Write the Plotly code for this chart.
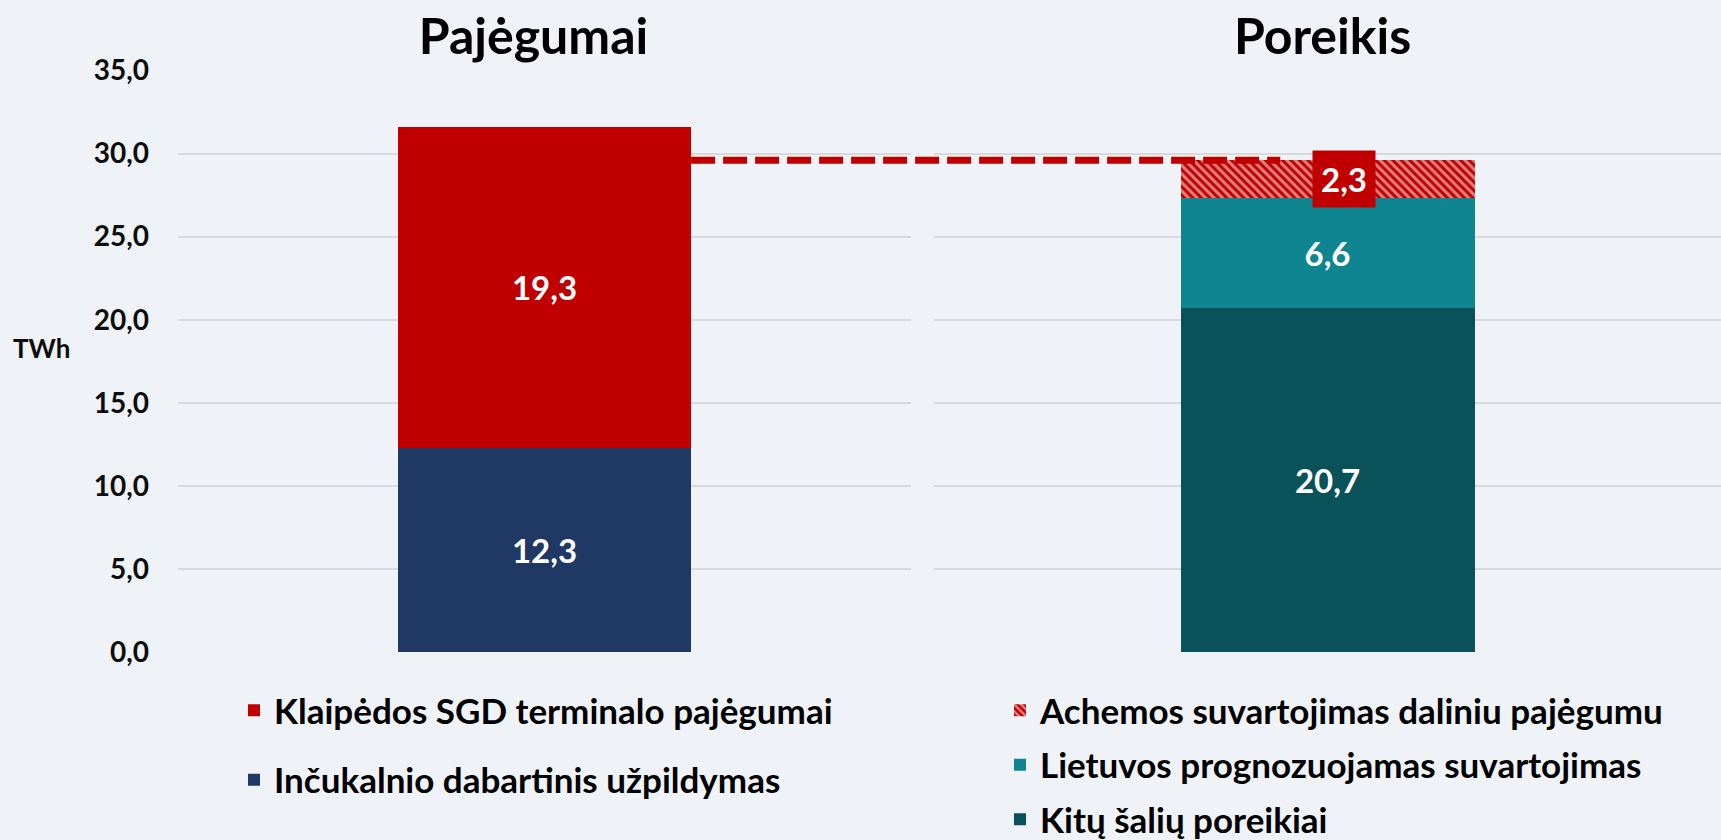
import plotly.graph_objects as go

# ---- data ----
cap_category = ["Pajėgumai"]
dem_category = ["Poreikis"]

incukalnis = [12.3]          # Inčukalnio dabartinis užpildymas
klaipeda = [19.3]            # Klaipėdos SGD terminalo pajėgumai

kitos_salys = [20.7]         # Kitų šalių poreikiai
lietuva = [6.6]              # Lietuvos prognozuojamas suvartojimas
achema = [2.3]               # Achemos suvartojimas daliniu pajėgumu

y_ticks = [0, 5, 10, 15, 20, 25, 30, 35]

# ---- styling ----
W, H = 1721, 840
BG = "#EFF3F7"
FONT = "Lato"
RED = "#C00000"
NAVY = "#203864"
TEAL = "#0E8591"
DTEAL = "#0A525A"
GRID = "#D9D9D9"

left_dom = [178 / W, 911 / W]
right_dom = [934 / W, 1.0]
y_dom = [(H - 652) / H, (H - 70.5) / H]
left_width = 0.40
right_width = 294 / (W * (right_dom[1] - right_dom[0]))

label_font = dict(family=FONT, size=33, color="white")

fig = go.Figure()

def bar(x, y, name, color, xa, ya, legend, width, rank, text=True, pattern=None):
    kw = {}
    if pattern:
        kw["marker"] = dict(color=RED, line=dict(width=0), pattern=pattern)
    else:
        kw["marker"] = dict(color=color, line=dict(width=0))
    fig.add_trace(go.Bar(
        x=x, y=y, name=name, xaxis=xa, yaxis=ya, legend=legend, width=width,
        legendgroup=name, legendrank=rank,
        texttemplate="<b>%{y:.1f}</b>" if text else None,
        textposition="inside" if text else "none",
        insidetextanchor="middle", textangle=0,
        textfont=label_font, constraintext="none",
        hoverinfo="skip", **kw))

bar(cap_category, incukalnis, "Inčukalnio dabartinis užpildymas", NAVY, "x", "y", "legend", left_width, 2)
bar(cap_category, klaipeda, "Klaipėdos SGD terminalo pajėgumai", RED, "x", "y", "legend", left_width, 1)
bar(dem_category, kitos_salys, "Kitų šalių poreikiai", DTEAL, "x2", "y2", "legend2", right_width, 3)
bar(dem_category, lietuva, "Lietuvos prognozuojamas suvartojimas", TEAL, "x2", "y2", "legend2", right_width, 2)
bar(dem_category, achema, "Achemos suvartojimas daliniu pajėgumu", RED, "x2", "y2", "legend2", right_width, 1,
    text=False, pattern=dict(shape="\\", fgcolor="white", bgcolor=RED, size=6, solidity=0.5))

demand_total = kitos_salys[0] + lietuva[0] + achema[0]

# dashed reference line from capacity bar edge to the demand bar
x0 = left_dom[0] + (0.5 + left_width / 2) * (left_dom[1] - left_dom[0])
x1 = right_dom[0] + (0.5 - 0.06) * (right_dom[1] - right_dom[0])
fig.add_shape(type="line", xref="paper", yref="y", x0=x0, x1=x1,
              y0=demand_total, y1=demand_total,
              line=dict(color=RED, width=7, dash="24px,8px"), layer="above")

# label for Achema segment
fig.add_annotation(xref="x2", yref="y2", x=dem_category[0],
                   y=kitos_salys[0] + lietuva[0] + achema[0] / 2,
                   text="<b>" + f"{achema[0]:.1f}".replace(".", ",") + "</b>",
                   showarrow=False, xshift=16, bgcolor=RED, borderpad=8,
                   font=dict(family=FONT, size=33, color="white"))

# axis unit
fig.add_annotation(xref="paper", yref="paper", x=11 / W, y=1 - 348 / H,
                   xanchor="left", yanchor="middle", text="<b>TWh</b>", showarrow=False,
                   font=dict(family=FONT, size=26, color="#0D0D0D"))

yax = dict(range=[0, 35], domain=y_dom, tickvals=y_ticks, tickformat=".1f",
           showgrid=True, gridcolor=GRID, gridwidth=2, zeroline=False,
           showline=False, ticks="", fixedrange=True, automargin=False)
xax = dict(type="category", range=[-0.5, 0.5], side="top", showgrid=False,
           zeroline=False, showline=False, ticks="", ticklabelstandoff=6,
           automargin=False, fixedrange=True,
           tickfont=dict(family=FONT, size=50, color="black", weight="bold"))

legend_font = dict(family=FONT, size=35, color="black", weight="bold")

fig.update_layout(
    width=W, height=H, margin=dict(l=0, r=0, t=0, b=0, autoexpand=False),
    paper_bgcolor=BG, plot_bgcolor=BG, separators=",.",
    barmode="stack", showlegend=True,
    font=dict(family=FONT, color="black"),
    xaxis=dict(domain=left_dom, anchor="y", ticklabelshift=-11, **xax),
    xaxis2=dict(domain=right_dom, anchor="y2", ticklabelshift=-5, **xax),
    yaxis=dict(anchor="x", ticklabelstandoff=28,
               tickfont=dict(family=FONT, size=28, color="#0D0D0D", weight="bold"), **yax),
    yaxis2=dict(anchor="x2", showticklabels=False, matches="y", **yax),
    legend=dict(x=234 / W, y=1 - 681 / H, xanchor="left", yanchor="top",
                traceorder="grouped", tracegroupgap=21, bgcolor="rgba(0,0,0,0)",
                font=legend_font),
    legend2=dict(x=1000 / W, y=1 - 681 / H, xanchor="left", yanchor="top",
                 traceorder="grouped", tracegroupgap=6, bgcolor="rgba(0,0,0,0)",
                 font=legend_font),
)

fig.write_html("out.html", config={"displayModeBar": False},
               post_script="document.body.style.margin='0';document.body.style.overflow='hidden';")
